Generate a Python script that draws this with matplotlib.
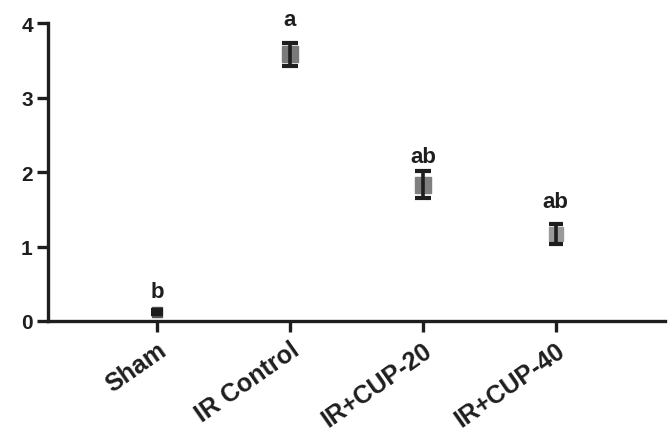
import matplotlib
matplotlib.use("Agg")
import matplotlib.pyplot as plt

categories = ["Sham", "IR Control", "IR+CUP-20", "IR+CUP-40"]
means = [0.12, 3.58, 1.83, 1.17]
errors = [0.025, 0.15, 0.18, 0.13]
letters = ["b", "a", "ab", "ab"]
letter_y = [0.32, 3.98, 2.14, 1.53]
yticks = [0, 1, 2, 3, 4]

plt.rcParams['font.family'] = ['Liberation Sans', 'DejaVu Sans']
plt.rcParams['font.weight'] = 'bold'

fig = plt.figure(figsize=(6.68, 4.31), dpi=100)
ax = fig.add_axes([0.072, 0.253, 0.923, 0.691])
x = list(range(len(categories)))
ink = "#1e1e1e"

msizes = [7, 11, 11, 10]
mcolors = ["#555555", "#7a7a7a", "#7f7f7f", "#9a9a9a"]
caps = [4.5, 6, 6, 5]
for xi, m, e, ms, mc, cs in zip(x, means, errors, msizes, mcolors, caps):
    ax.plot([xi], [m], marker="s", markersize=ms, color=mc, linestyle="none", zorder=2)
    ax.errorbar([xi], [m], yerr=[e], fmt="none", ecolor=ink, elinewidth=2.6,
                capsize=cs, capthick=3, zorder=3)
for xi, ly, t in zip(x, letter_y, letters):
    ax.text(xi, ly, t, ha="center", va="baseline", fontsize=16,
            fontweight="bold", color=ink)

ax.set_xlim(-0.82, 3.82)
ax.set_ylim(0, 4)
ax.set_yticks(yticks)
ax.set_yticklabels([str(v) for v in yticks], fontsize=15, fontweight="bold")
ax.set_xticks(x)
ax.set_xticklabels(categories, rotation=35, ha="right", rotation_mode="anchor",
                   fontsize=18, fontweight="bold")
for s in ["top", "right"]:
    ax.spines[s].set_visible(False)
for s in ["left", "bottom"]:
    ax.spines[s].set_linewidth(2.4)
    ax.spines[s].set_color(ink)
ax.tick_params(axis="both", width=2.4, length=8, color=ink, labelcolor=ink)
ax.tick_params(axis="y", pad=3)
ax.tick_params(axis="x", pad=4)
for sp in ax.spines.values():
    sp.set_clip_on(False)

fig.savefig("out.png", dpi=100)
